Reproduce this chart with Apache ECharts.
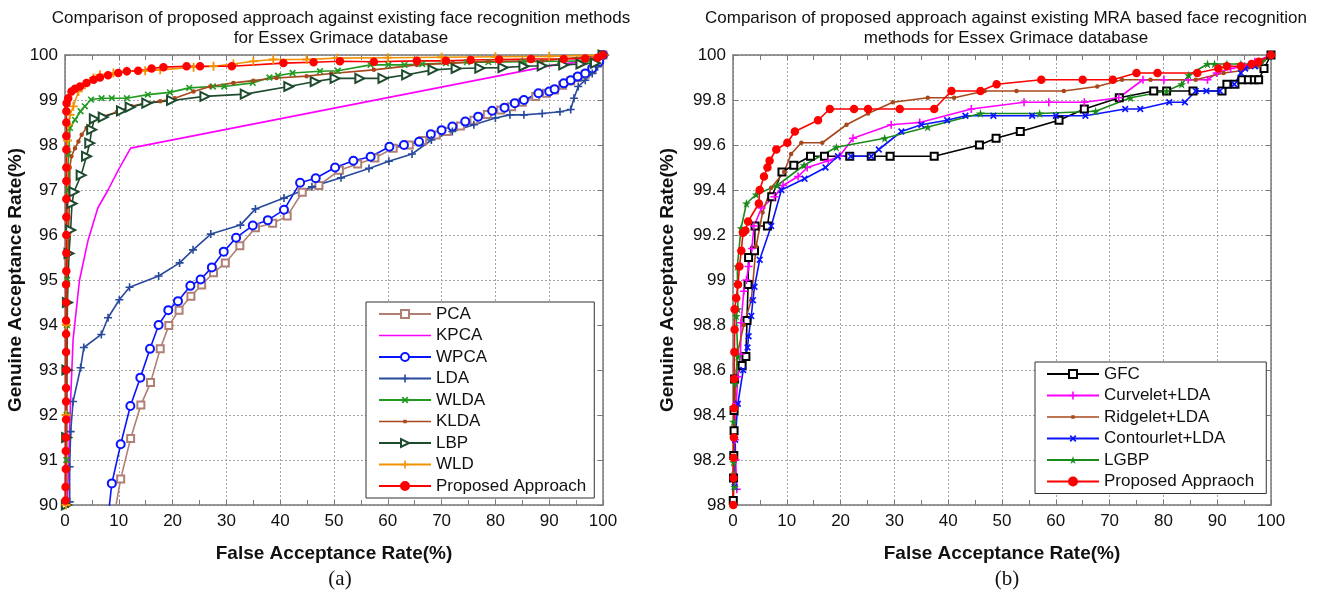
<!DOCTYPE html>
<html>
<head>
<meta charset="utf-8">
<script src="https://cdn.jsdelivr.net/npm/echarts@6/dist/echarts.min.js"></script>
<style>
html, body { margin: 0; padding: 0; background: #fff; }
#chart { width: 1321px; height: 598px; }
</style>
</head>
<body>
<div id="chart"></div>
<script>
// ---- (a) existing face recognition methods, [FAR %, GAR %]
const pcaData = [[8.9,89.6],[10.35,90.58],[12.2,91.48],[14.1,92.22],[15.9,92.72],[17.7,93.47],[19.3,93.99],[21.2,94.33],[23.4,94.64],[25.4,94.89],[27.6,95.16],[29.8,95.38],[32.5,95.76],[35.4,96.16],[38.6,96.26],[41.3,96.42],[44.1,96.95],[47.2,97.1],[51,97.44],[54.4,97.58],[57.6,97.71],[61,97.93],[64,98.0],[66.5,98.1],[69,98.22],[71,98.3],[73.5,98.42],[76,98.55],[78.5,98.68],[81,98.78],[83,98.85],[85,98.95],[87.5,99.08],[89.5,99.15],[91,99.22],[92.5,99.33],[94,99.42],[95.3,99.5],[96.7,99.57],[98,99.68],[99.3,99.83],[100,100]]
const kpcaData = [[0.4,89.8],[0.68,91.0],[1.0,92.18],[1.5,93.67],[2.7,95.0],[4.3,95.89],[6.1,96.6],[8.0,97.0],[9.9,97.44],[12.2,97.93],[91,99.78],[97.5,99.87],[100,100]]
const wpcaData = [[7.9,89.6],[8.7,90.48],[10.35,91.35],[12.15,92.2],[14,92.83],[15.8,93.47],[17.4,94.0],[19.2,94.33],[21,94.53],[23.3,94.87],[25.2,95.01],[27.3,95.28],[29.5,95.63],[31.8,95.94],[34.9,96.21],[37.7,96.33],[40.7,96.56],[43.7,97.16],[46.6,97.26],[50.2,97.5],[53.6,97.65],[56.8,97.74],[60.3,97.96],[63,98.0],[65.8,98.07],[68,98.24],[70,98.33],[72,98.41],[74.4,98.52],[76.8,98.63],[79.4,98.76],[81.7,98.83],[83.6,98.93],[85.3,99.0],[88,99.15],[90,99.19],[91,99.24],[92.7,99.37],[94,99.44],[95.3,99.52],[96.7,99.59],[98,99.7],[99.3,99.85],[100,100]]
const ldaData = [[0.87,90.07],[0.87,90.85],[1.06,91.63],[1.5,92.3],[2.9,93.05],[3.5,93.5],[6.75,93.79],[8.0,94.16],[10.1,94.56],[12,94.84],[17.4,95.09],[21.3,95.38],[23.8,95.67],[27.1,96.02],[32.6,96.22],[35.4,96.58],[40.7,96.82],[45.9,97.07],[51.3,97.27],[56.5,97.48],[60.2,97.64],[64.5,97.8],[68.1,98.11],[72,98.3],[76,98.45],[80,98.6],[82.7,98.67],[85.3,98.67],[88.7,98.7],[92,98.74],[94,98.79],[94.6,99.04],[95.4,99.3],[96.7,99.44],[98,99.59],[99,99.74],[100,100]]
const wldaData = [[0.2,90],[0.25,91],[0.3,92],[0.3,93],[0.35,94],[0.4,95],[0.45,96],[0.55,97],[0.65,97.8],[0.93,98.38],[1.86,98.56],[2.9,98.75],[3.7,98.86],[4.83,99.01],[6.8,99.04],[8.7,99.04],[11.5,99.04],[15.4,99.12],[19.5,99.17],[23.1,99.27],[27.5,99.3],[29.6,99.3],[34.9,99.38],[38,99.5],[39.6,99.54],[42.3,99.6],[47.4,99.64],[50.7,99.65],[56.8,99.78],[60.1,99.78],[63.1,99.78],[66.4,99.8],[70.8,99.82],[74.7,99.84],[78.7,99.84],[85.3,99.85],[92,99.86],[97.3,99.87],[100,100]]
const kldaData = [[0.15,90],[0.2,92],[0.3,94],[0.5,95.5],[0.9,97.0],[0.9,97.5],[1.2,97.75],[1.86,97.93],[2.5,98.08],[3.1,98.23],[4.0,98.38],[5.3,98.56],[7.1,98.64],[9.6,98.73],[12.4,98.86],[14.9,98.93],[17.7,98.97],[20.4,99.04],[23.9,99.19],[27,99.3],[31.3,99.38],[35,99.43],[39.3,99.49],[44.9,99.53],[49.5,99.59],[57.4,99.67],[65.4,99.78],[72.1,99.82],[78.7,99.86],[88.7,99.87],[100,100]]
const lbpData = [[0.25,90],[0.3,91.5],[0.35,93.0],[0.45,94.5],[0.74,95.59],[1.05,96.11],[1.3,96.7],[1.67,96.96],[3.0,97.33],[4.0,97.75],[4.6,98.04],[4.96,98.34],[5.45,98.58],[7.1,98.62],[10.5,98.76],[12.1,98.84],[15.2,98.93],[19.8,98.99],[26,99.08],[33.5,99.13],[41.6,99.3],[46.5,99.41],[50.2,99.48],[54.8,99.48],[59.1,99.48],[63.5,99.56],[68.4,99.67],[72.7,99.7],[77.1,99.71],[81.4,99.72],[85.3,99.75],[88.7,99.76],[92.7,99.78],[95.9,99.8],[98.6,99.82],[100,100]]
const wldData = [[0.2,90],[0.2,92],[0.25,94],[0.3,96],[0.35,97.5],[0.45,98.1],[0.6,98.45],[0.93,98.67],[1.55,98.86],[2.5,99.19],[3.7,99.34],[5.3,99.49],[6.5,99.56],[9,99.6],[11.5,99.64],[14.9,99.65],[17.7,99.67],[23.9,99.73],[27.6,99.75],[31.3,99.8],[35,99.86],[38.7,99.9],[44.9,99.9],[50.5,99.93],[60,99.94],[70,99.95],[80,99.96],[90,99.97],[100,100]]
const propAData = [[0.1,90.1],[0.1,90.4],[0.15,90.8],[0.15,91.2],[0.15,91.5],[0.2,91.9],[0.2,92.3],[0.2,92.6],[0.2,93.0],[0.2,93.4],[0.2,93.8],[0.2,94.1],[0.2,94.5],[0.2,94.9],[0.25,95.2],[0.25,95.6],[0.25,96.0],[0.25,96.4],[0.25,96.8],[0.25,97.2],[0.25,97.5],[0.25,97.9],[0.25,98.2],[0.25,98.5],[0.25,98.75],[0.3,98.93],[0.6,99.04],[1.2,99.19],[1.86,99.25],[2.8,99.3],[4.0,99.38],[5.3,99.45],[6.5,99.5],[8.0,99.55],[9.9,99.6],[11.5,99.64],[13.6,99.65],[16.1,99.7],[18.3,99.73],[22.6,99.75],[25.1,99.75],[31,99.75],[40.6,99.82],[46.2,99.84],[51.1,99.86],[57.4,99.85],[65.4,99.87],[70.8,99.87],[75.4,99.89],[80.7,99.9],[86.6,99.91],[92.7,99.91],[96.7,99.92],[99,99.94],[100,100]]

// ---- (b) MRA based methods
const gfcData = [[0.05,98.02],[0.1,98.12],[0.15,98.22],[0.2,98.33],[0.2,98.42],[0.3,98.56],[1.7,98.62],[2.4,98.66],[2.6,98.82],[2.8,98.98],[2.9,99.1],[4.0,99.13],[4.1,99.24],[6.4,99.24],[7.2,99.37],[9.1,99.48],[11.3,99.51],[14.4,99.55],[17,99.55],[21.7,99.55],[25.7,99.55],[29.2,99.55],[37.4,99.55],[45.8,99.6],[48.9,99.63],[53.4,99.66],[60.6,99.71],[65.3,99.76],[71.8,99.81],[78.2,99.84],[80.6,99.84],[85.5,99.84],[90.9,99.84],[91.8,99.87],[93.3,99.87],[94.6,99.89],[95.8,99.89],[96.9,99.89],[97.7,99.89],[98.7,99.94],[100,100]]
const curveletData = [[0.7,98.07],[0.5,98.2],[0.4,98.29],[0.6,98.45],[0.9,98.57],[1.4,98.67],[1.5,98.81],[2.0,98.95],[2.5,99.0],[2.9,99.06],[3.5,99.14],[3.9,99.24],[5.3,99.32],[7.7,99.37],[9.3,99.42],[12.1,99.46],[13.8,99.5],[17.7,99.53],[19.8,99.55],[22.3,99.63],[29.4,99.69],[34.7,99.7],[44.3,99.76],[54.1,99.79],[58.7,99.79],[65.3,99.79],[71.7,99.81],[76.2,99.89],[80.1,99.89],[84.6,99.89],[88.2,99.89],[89.9,99.92],[92.5,99.94],[95.1,99.95],[97,99.97],[100,100]]
const ridgeletData = [[0,98.0],[0.1,98.14],[0.3,98.44],[0.8,98.67],[2.0,98.8],[3.4,98.91],[4.3,99.15],[5.5,99.3],[7.1,99.41],[9.5,99.48],[10.8,99.56],[12.7,99.61],[16.6,99.61],[21.1,99.69],[25.1,99.74],[29.7,99.79],[36.2,99.81],[41.1,99.81],[46.8,99.84],[52.7,99.84],[61.5,99.84],[67.7,99.86],[72.3,99.89],[77.6,99.89],[86,99.89],[91.2,99.92],[94.4,99.93],[97.7,99.95],[100,100]]
const contourletData = [[0.3,98.08],[0.4,98.29],[0.9,98.45],[1.9,98.6],[2.7,98.7],[2.9,98.75],[3.4,98.84],[3.7,98.91],[4.0,98.97],[4.96,99.09],[7.1,99.24],[9.0,99.4],[13.3,99.45],[17.2,99.5],[19.5,99.55],[21.9,99.55],[25.7,99.55],[27.1,99.58],[31.3,99.66],[35,99.69],[39.8,99.71],[43.2,99.73],[48.4,99.73],[55.6,99.73],[60,99.73],[65.5,99.73],[72.9,99.76],[75.7,99.76],[81.1,99.79],[84,99.79],[86,99.84],[88,99.84],[90.5,99.84],[93.2,99.87],[94.4,99.92],[95.2,99.94],[97,99.95],[100,100]]
const lgbpData = [[0.3,98.08],[0.1,98.19],[0.1,98.37],[0.4,98.54],[0.9,98.66],[0.6,98.84],[0.9,98.87],[0.8,99.06],[1.5,99.23],[2.5,99.34],[4.3,99.38],[8.2,99.42],[13.2,99.51],[19.2,99.59],[28.2,99.63],[36.2,99.68],[46,99.74],[57,99.74],[67.4,99.75],[73.9,99.81],[80.6,99.84],[83.4,99.87],[84.7,99.91],[88.2,99.96],[89.5,99.96],[91.8,99.96],[94.4,99.96],[96.4,99.96],[98.3,99.97],[100,100]]
const propBData = [[0.05,98.0],[0.1,98.12],[0.1,98.21],[0.15,98.3],[0.2,98.43],[0.2,98.56],[0.25,98.68],[0.3,98.78],[0.3,98.87],[0.6,98.92],[0.93,98.98],[1.2,99.06],[1.55,99.13],[1.86,99.21],[2.3,99.22],[2.8,99.26],[4.8,99.34],[4.96,99.4],[5.76,99.46],[6.4,99.5],[6.8,99.53],[8.05,99.58],[10.1,99.61],[11.5,99.66],[15.8,99.71],[18,99.76],[22.5,99.76],[25.1,99.76],[31,99.76],[37.4,99.76],[40.6,99.84],[46,99.84],[49,99.87],[57.3,99.89],[65,99.89],[70.6,99.89],[75,99.92],[78.9,99.92],[86.3,99.92],[90.2,99.94],[91.8,99.95],[94.4,99.95],[96.4,99.96],[97.7,99.97],[100,100]]

const FONT = '"Liberation Sans", Arial, sans-serif'
const AXIS = '#7a7a7a'
const PLUS = 'path://M4,0H6V4H10V6H6V10H4V6H0V4H4Z'
const STAR = 'path://M5,0L6.2,3.6L10,3.6L6.9,5.8L8.1,9.5L5,7.2L1.9,9.5L3.1,5.8L0,3.6L3.8,3.6Z'
// legend icons: a plain line, and a line with a small dot (bbox kept 52x10 by tiny corner points)
const ICON_LINE = 'path://M0,0L0.01,0L0,0.01Z M0,4.2H52V5.8H0Z M52,10L51.99,10L52,9.99Z'
const ICON_DOT = 'path://M0,0L0.01,0L0,0.01Z M0,4.2H52V5.8H0Z M24.3,3.3H27.7V6.7H24.3Z M52,10L51.99,10L52,9.99Z'

const chart = echarts.init(document.getElementById('chart'))

function xAxisFor(gi, top) {
  return {
    type: 'value', gridIndex: gi, min: 0, max: 100, interval: 10,
    position: top ? 'top' : 'bottom',
    name: top ? '' : 'False Acceptance Rate(%)',
    nameLocation: 'middle', nameGap: 39,
    nameTextStyle: { fontFamily: FONT, fontSize: 19, fontWeight: 'bold', color: '#111' },
    axisLine: { show: true, onZero: false, lineStyle: { color: AXIS, width: 1.5 } },
    axisTick: { show: true, inside: true, length: 5, lineStyle: { color: AXIS } },
    minorTick: { show: true, splitNumber: 2, length: 5, lineStyle: { color: AXIS } },
    axisLabel: { show: !top, fontFamily: FONT, fontSize: 17, color: '#111', margin: 8 },
    splitLine: { show: !top, lineStyle: { color: '#a5a5a5', type: [2, 2], width: 1 } },
  }
}

function yAxisFor(gi, right, min, interval, gap) {
  return {
    type: 'value', gridIndex: gi, min: min, max: 100, interval: interval,
    position: right ? 'right' : 'left',
    name: right ? '' : 'Genuine Acceptance Rate(%)',
    nameLocation: 'middle', nameGap: gap,
    nameTextStyle: { fontFamily: FONT, fontSize: 19, fontWeight: 'bold', color: '#111' },
    axisLine: { show: true, onZero: false, lineStyle: { color: AXIS, width: 1.5 } },
    axisTick: { show: true, inside: true, length: 5, lineStyle: { color: AXIS } },
    axisLabel: { show: !right, fontFamily: FONT, fontSize: 17, color: '#111', margin: 7 },
    splitLine: { show: !right, lineStyle: { color: '#a5a5a5', type: [2, 2], width: 1 } },
  }
}

function line(name, data, color, symbol, size, gi, extra) {
  return Object.assign({
    name: name, type: 'line', data: data,
    xAxisIndex: gi * 2, yAxisIndex: gi * 2,
    color: color, symbol: symbol, symbolSize: size,
    showAllSymbol: true, clip: true, animation: false,
    lineStyle: { width: 1.6, color: color },
    itemStyle: { color: color, borderColor: color, borderWidth: 1.5 },
  }, extra || {})
}

const legendStyle = {
  orient: 'vertical', backgroundColor: '#fff', borderColor: '#333', borderWidth: 1,
  itemWidth: 52, itemHeight: 10, itemGap: 1.5,
  textStyle: { fontFamily: FONT, fontSize: 17, color: '#111', lineHeight: 20 },
}
const plainIcon = { borderWidth: 0 }

const option = {
  backgroundColor: '#fff',
  animation: false,
  title: [
    { text: 'Comparison of proposed approach against existing face recognition methods\nfor Essex Grimace database',
      left: 336, top: 4, textAlign: 'center',
      textStyle: { fontFamily: FONT, fontSize: 17, fontWeight: 'normal', lineHeight: 19.5, color: '#111' } },
    { text: 'Comparison of proposed approach against existing MRA based face recognition\nmethods for Essex Grimace database',
      left: 1001, top: 4, textAlign: 'center',
      textStyle: { fontFamily: FONT, fontSize: 17, fontWeight: 'normal', lineHeight: 19.5, color: '#111' } },
    { text: '(a)', left: 335, top: 564, textAlign: 'center',
      textStyle: { fontFamily: '"Liberation Serif", serif', fontSize: 21, fontWeight: 'normal', color: '#111' } },
    { text: '(b)', left: 1002, top: 564, textAlign: 'center',
      textStyle: { fontFamily: '"Liberation Serif", serif', fontSize: 21, fontWeight: 'normal', color: '#111' } },
  ],
  grid: [
    { left: 65, top: 55, width: 538, height: 450 },
    { left: 733, top: 55, width: 538, height: 450 },
  ],
  xAxis: [xAxisFor(0, false), xAxisFor(0, true), xAxisFor(1, false), xAxisFor(1, true)],
  yAxis: [yAxisFor(0, false, 90, 1, 38), yAxisFor(0, true, 90, 1, 0),
          yAxisFor(1, false, 98, 0.2, 56), yAxisFor(1, true, 98, 0.2, 0)],
  legend: [
    Object.assign({ left: 366, top: 302, padding: [2, 8, 2, 12],
      data: ['PCA', { name: 'KPCA', icon: ICON_LINE, itemStyle: plainIcon }, 'WPCA', 'LDA', 'WLDA',
             { name: 'KLDA', icon: ICON_DOT, itemStyle: plainIcon }, 'LBP', 'WLD', 'Proposed Approach'] }, legendStyle),
    Object.assign({ left: 1035, top: 362, padding: [2, 12, 2, 11],
      data: ['GFC', 'Curvelet+LDA', { name: 'Ridgelet+LDA', icon: ICON_DOT, itemStyle: plainIcon },
             'Contourlet+LDA', 'LGBP', 'Proposed Appraoch'] }, legendStyle),
  ],
  series: [
    line('PCA', pcaData, '#b07f74', 'emptyRect', 7, 0),
    line('KPCA', kpcaData, '#ff00ff', 'none', 0, 0),
    line('WPCA', wpcaData, '#0a14ff', 'emptyCircle', 8, 0),
    line('LDA', ldaData, '#284a9c', PLUS, 8, 0, { itemStyle: { color: '#284a9c', borderWidth: 0 } }),
    line('WLDA', wldaData, '#229a22', PLUS, 8, 0, { symbolRotate: 45, itemStyle: { color: '#229a22', borderWidth: 0 } }),
    line('KLDA', kldaData, '#a8481c', 'circle', 3, 0),
    line('LBP', lbpData, '#1e4a2e', 'emptyTriangle', 9, 0, { symbolRotate: -90 }),
    line('WLD', wldData, '#f39200', PLUS, 9, 0, { itemStyle: { color: '#f39200', borderWidth: 0 } }),
    line('Proposed Approach', propAData, '#ff0000', 'circle', 7, 0),

    line('GFC', gfcData, '#000000', 'emptyRect', 7, 1),
    line('Curvelet+LDA', curveletData, '#ff00ff', PLUS, 8, 1, { itemStyle: { color: '#ff00ff', borderWidth: 0 } }),
    line('Ridgelet+LDA', ridgeletData, '#a8481c', 'circle', 3, 1),
    line('Contourlet+LDA', contourletData, '#0a14ff', PLUS, 8, 1, { symbolRotate: 45, itemStyle: { color: '#0a14ff', borderWidth: 0 } }),
    line('LGBP', lgbpData, '#1a8a1a', STAR, 9, 1, { itemStyle: { color: '#1a8a1a', borderWidth: 0 } }),
    line('Proposed Appraoch', propBData, '#ff0000', 'circle', 7, 1),
  ],
}

chart.setOption(option)
</script>
</body>
</html>
